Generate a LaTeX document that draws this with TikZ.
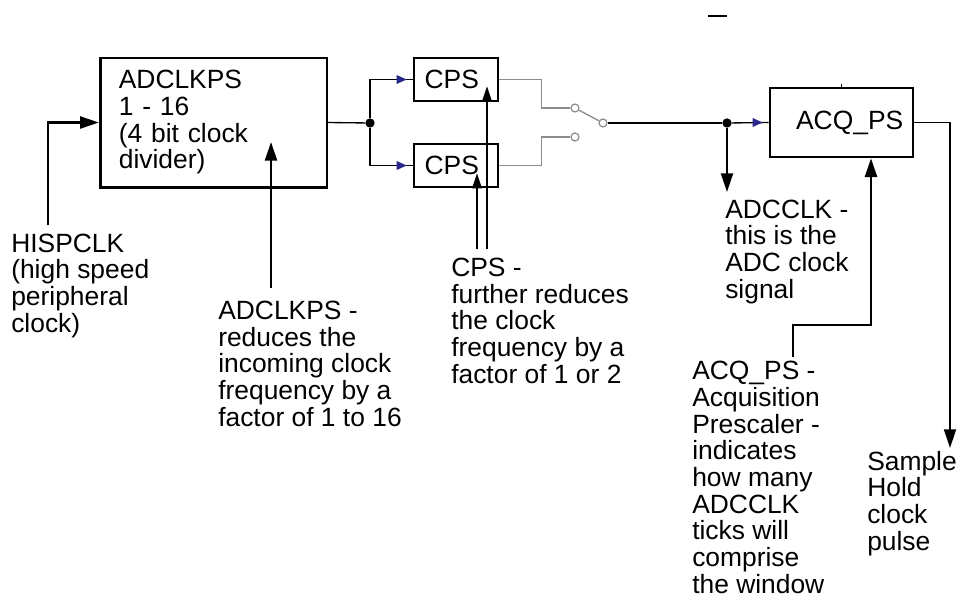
\documentclass[tikz,border=0pt]{standalone}
\usepackage{fontspec}
\setmainfont{Liberation Sans}
\usetikzlibrary{arrows.meta,calc}
\definecolor{navytip}{RGB}{40,40,140}
\definecolor{sgray}{RGB}{140,140,140}
\tikzset{
  blk/.style={draw, line width=2pt, inner ysep=0pt},
  lbl/.style={anchor=base west, align=left, inner sep=0pt},
  arr/.style={line width=1.9pt, -{Triangle[length=14pt,width=9pt]}},
  sarr/.style={line width=1.6pt, -{Triangle[length=11.5pt,width=7pt]}},
  sig/.style={line width=1pt},
  gsig/.style={line width=1pt, draw=sgray},
  swc/.style={circle, draw=sgray, line width=0.9pt, minimum size=6pt, inner sep=0pt, fill=white},
  jdot/.style={circle, fill=black, inner sep=0pt, minimum size=7pt},
  btip/.style={fill=navytip}
}
\begin{document}
\begin{tikzpicture}[x=0.75pt,y=-0.75pt,font=\fontsize{19.8}{20}\selectfont]
\useasboundingbox (0,0) rectangle (959,597);

% blocks
\node[blk, minimum width=170pt, minimum height=97pt, inner xsep=14pt, text width=142pt, align=left]
  (adclkps) at (213.5,122.5) {ADCLKPS\\1 - 16\\(4 bit clock\\divider)};
\node[blk, minimum width=63pt, minimum height=32.25pt, inner xsep=8pt, text width=47pt, align=left]
  (cpsA) at (456,79.5) {CPS};
\node[blk, minimum width=63pt, minimum height=32.25pt, inner xsep=8pt, text width=47pt, align=left]
  (cpsB) at (456,165.5) {CPS};
\node[blk, minimum width=107.25pt, minimum height=51.75pt, inner xsep=7.3pt, text width=92.6pt, align=right]
  (acq) at (841.5,122.5) {ACQ\_PS};

% junctions and switch contacts
\node[jdot] (j1) at (370,123) {};
\node[jdot] (j2) at (727,123) {};
\node[swc] (s1) at (575,108) {};
\node[swc] (s2) at (575,137) {};
\node[swc] (s3) at (603,123) {};

% labels (anchored at the baseline of their last line)
\node[lbl] (hisp) at (11,332) {HISPCLK\\(high speed\\peripheral\\clock)};
\node[lbl] (adl) at (218,426) {ADCLKPS -\\reduces the\\incoming clock\\frequency by a\\factor of 1 to 16};
\node[lbl] (cpsl) at (451,383) {CPS -\\further reduces\\the clock\\frequency by a\\factor of 1 or 2};
\node[lbl] (adcl) at (725,298) {ADCCLK -\\this is the\\ADC clock\\signal};
\node[lbl, text depth=0pt] (acql) at (692,593) {ACQ\_PS -\\Acquisition\\Prescaler -\\indicates\\how many\\ADCCLK\\ticks will\\comprise\\the window};
\node[lbl] (samp) at (867,550) {Sample\\Hold\\clock\\pulse};

% free connector ends
\coordinate (h0) at (48,225);
\coordinate (a0) at (271,288);
\coordinate (a1) at (271,142);
\coordinate (c1) at (487,249);
\coordinate (c1e) at (487,86);
\coordinate (c2) at (477,249);
\coordinate (c2e) at (477,173);
\coordinate (d1) at (727,192);
\coordinate (sh) at (950,448);
\coordinate (q0) at (793,357);
\coordinate (q1) at (871,325);

% connectors
\draw[arr, line width=1.6pt] (h0) |- (adclkps.west);
\draw[arr] (a0) -- (a1);
\draw[sig] (adclkps.east) -- (j1);
\draw[sig] (j1) |- (cpsA.west);
\draw[sig] (j1) |- (cpsB.west);
\fill[btip] ($(cpsA.west)+(-16,-4.5)$) -- ++(10,4.5) -- ++(-10,4.5) -- cycle;
\fill[btip] ($(cpsB.west)+(-16,-4.5)$) -- ++(10,4.5) -- ++(-10,4.5) -- cycle;
\draw[sarr] (c1) -- (c1e);
\draw[sarr] (c2) -- (c2e);
\draw[gsig] (cpsA.east) -- ++(42,0) |- (s1.west);
\draw[gsig] (cpsB.east) -- ++(42,0) |- (s2.west);
\draw[gsig] (s1) -- (s3);
\draw[sig] (s3.east) -- (j2);
\draw[sig] (j2) -- (acq.west);
\fill[btip] ($(acq.west)+(-16,-4.5)$) -- ++(10,4.5) -- ++(-10,4.5) -- cycle;
\draw[arr, line width=1.6pt] (j2) -- (d1);
\draw[arr, line width=1.4pt] (acq.east) -| (sh);
\draw[arr] (q0) |- (q1) -- (q1 |- acq.south);
\draw[line width=1pt] (acq.north) -- ++(0,-3);

% stray dash at top
\draw[line width=1.5pt] (708,15.7) -- (727,15.7);
\end{tikzpicture}
\end{document}
